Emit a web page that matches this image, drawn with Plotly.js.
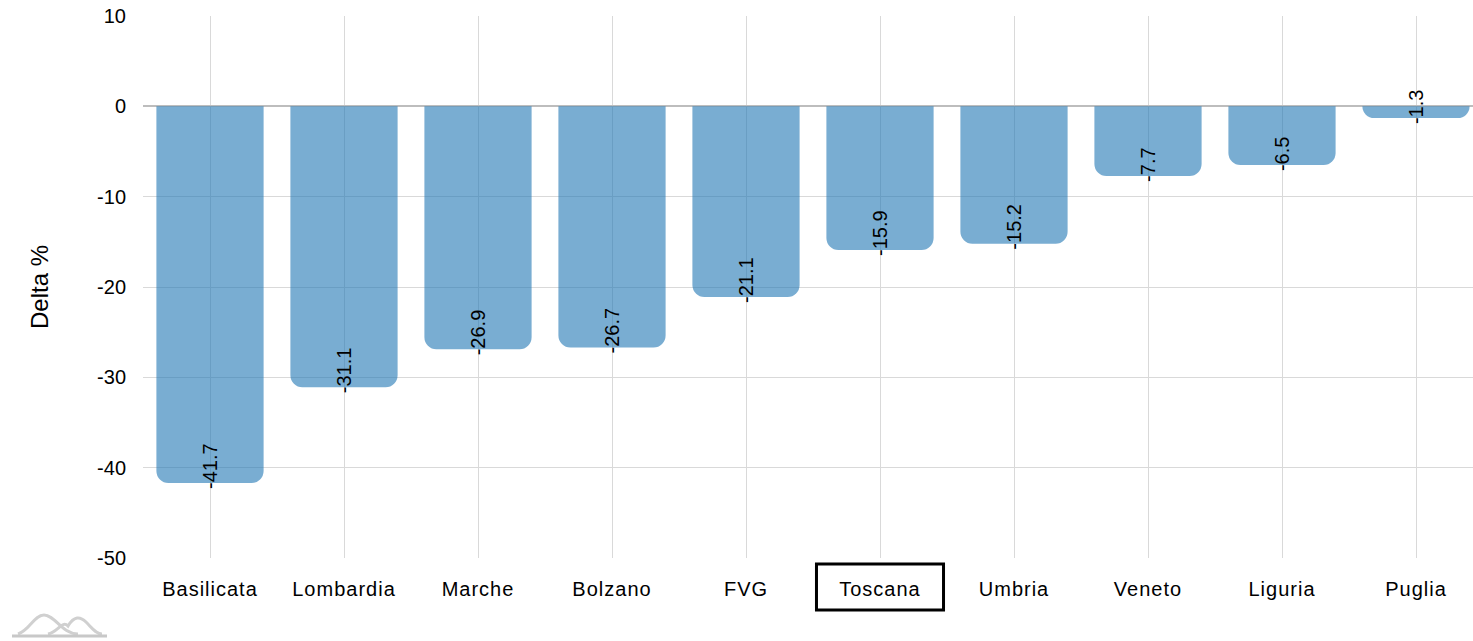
<!DOCTYPE html>
<html>
<head>
<meta charset="utf-8">
<script src="https://cdn.plot.ly/plotly-3.0.1.min.js"></script>
<style>
html,body{margin:0;padding:0;overflow:hidden;background:#fff;}
#chart{width:1490px;height:641px;}
.xtick text{letter-spacing:1px;}
</style>
</head>
<body>
<div id="chart"></div>
<script>
// Data
const regions = ["Basilicata","Lombardia","Marche","Bolzano","FVG","Toscana","Umbria","Veneto","Liguria","Puglia"];
const deltaPct = [-41.7,-31.1,-26.9,-26.7,-21.1,-15.9,-15.2,-7.7,-6.5,-1.3];
const yTicks = [10,0,-10,-20,-30,-40,-50];
const highlighted = "Toscana";
const yTitle = "Delta %";

const W = 1490, H = 641;
const M = {l:143, r:7, t:16, b:83};
const pw = W - M.l - M.r, ph = H - M.t - M.b;
function px2paperX(px){return (px - M.l)/pw;}
function px2paperY(py){return (H - M.b - py)/ph;}

const font = "Liberation Sans, Arial, sans-serif";

const trace = {
  type:"bar",
  x: regions,
  y: deltaPct,
  marker:{color:"rgba(31,119,180,0.6)", cornerradius:12, line:{width:0}},
  width:0.8,
  hoverinfo:"x+y"
};

const annotations = regions.map((r,i)=>({
  x:r, y:deltaPct[i], xref:"x", yref:"y",
  text:String(deltaPct[i]), showarrow:false, textangle:-90,
  xanchor:"center", yanchor:"bottom", yshift:-7, borderpad:0,
  font:{family:font, size:20, color:"#000"}
}));

const hi = regions.indexOf(highlighted);
function P(x,y){return px2paperX(x).toFixed(5)+","+px2paperY(y).toFixed(5);}
const logo1 = "M"+P(18,634)+" C"+P(30,630)+" "+P(34,615)+" "+P(44,615)+" C"+P(55,615)+" "+P(62,634)+" "+P(78,634);
const logo2 = "M"+P(48,634)+" C"+P(58,632)+" "+P(62,620)+" "+P(68,626)+" C"+P(74,616)+" "+P(80,616)+" "+P(86,622)+" C"+P(92,628)+" "+P(96,634)+" "+P(102,634);
const shapes = [
  {type:"rect", xref:"x", yref:"paper", x0:hi-0.474, x1:hi+0.474,
   y0:px2paperY(610), y1:px2paperY(564), line:{color:"#000", width:3}, fillcolor:"rgba(0,0,0,0)"},
  {type:"path", xref:"paper", yref:"paper", path:logo1, line:{color:"#d0d0d0", width:3}},
  {type:"path", xref:"paper", yref:"paper", path:logo2, line:{color:"#d0d0d0", width:3}},
  {type:"line", xref:"paper", yref:"paper", x0:px2paperX(12), x1:px2paperX(107), y0:px2paperY(636), y1:px2paperY(636), line:{color:"#c8c8c8", width:3}}
];

const layout = {
  width:W, height:H,
  margin:M,
  paper_bgcolor:"#fff", plot_bgcolor:"#fff",
  showlegend:false,
  font:{family:font, size:20, color:"#000"},
  bargap:0.2,
  xaxis:{
    type:"category", showgrid:true, gridcolor:"#d9d9d9", gridwidth:1,
    showline:false, ticks:"", zeroline:false,
    tickfont:{family:font, size:20, color:"#000"},
    ticklabelstandoff:17, automargin:false
  },
  yaxis:{
    range:[-50,10], tickvals:yTicks, ticktext:yTicks.map(String),
    showgrid:true, gridcolor:"#d9d9d9", gridwidth:1,
    zeroline:true, zerolinecolor:"#bdbdbd", zerolinewidth:2,
    showline:false, ticks:"",
    tickfont:{family:font, size:20, color:"#000"},
    ticklabelstandoff:16,
    title:{text:yTitle, font:{family:font, size:24, color:"#000"}, standoff:41},
    automargin:false
  },
  annotations:annotations,
  shapes:shapes
};

Plotly.newPlot("chart",[trace],layout,{displayModeBar:false, staticPlot:true});
</script>
</body>
</html>
